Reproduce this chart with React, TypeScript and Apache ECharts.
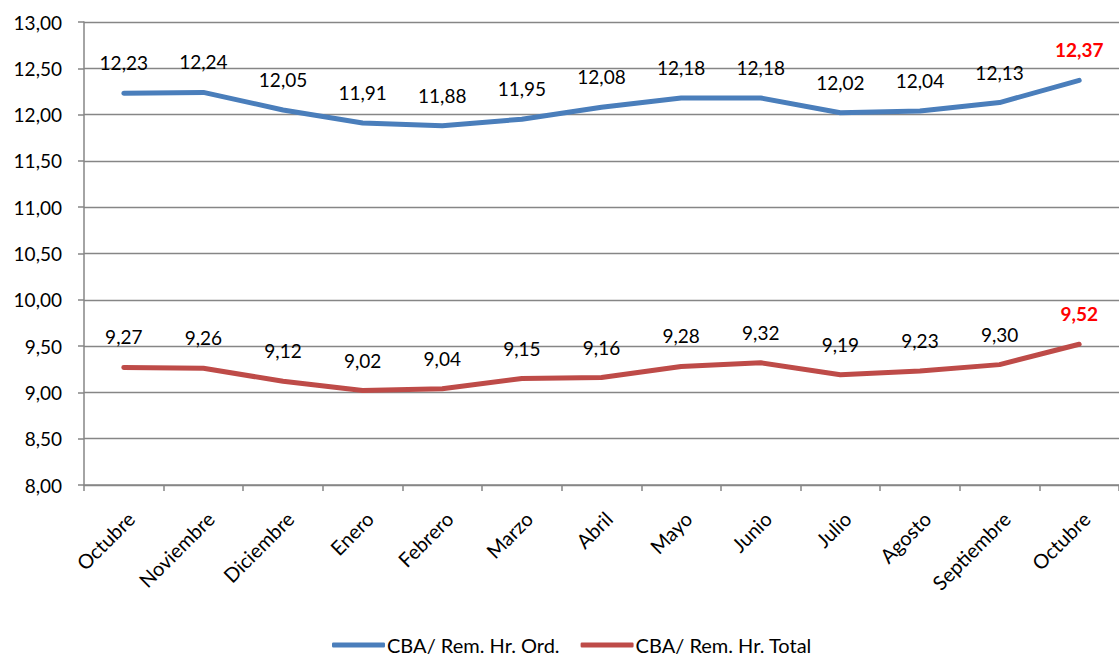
import React, { useEffect, useRef } from "react";
import * as echarts from "echarts";

const categories = ["Octubre", "Noviembre", "Diciembre", "Enero", "Febrero", "Marzo", "Abril", "Mayo", "Junio", "Julio", "Agosto", "Septiembre", "Octubre"];
const ordValues = [12.23, 12.24, 12.05, 11.91, 11.88, 11.95, 12.08, 12.18, 12.18, 12.02, 12.04, 12.13, 12.37];
const totalValues = [9.27, 9.26, 9.12, 9.02, 9.04, 9.15, 9.16, 9.28, 9.32, 9.19, 9.23, 9.30, 9.52];
const seriesNames = ["CBA/ Rem. Hr. Ord.", "CBA/ Rem. Hr. Total"];

const FONT = "Lato";
const fmt = (v: number) => v.toFixed(2).replace(".", ",");

function buildData(values: number[]) {
  return values.map((v, i) =>
    i === values.length - 1
      ? { value: v, label: { color: "#FF0000", fontWeight: "bold" as const } }
      : v
  );
}

export default function App() {
  const ref = useRef<HTMLDivElement>(null);
  useEffect(() => {
    if (!ref.current) return;
    const chart = echarts.init(ref.current, undefined, { renderer: "svg" });
    const labelCommon = {
      show: true,
      position: "top" as const,
      distance: 21,
      fontFamily: FONT,
      fontSize: 19,
      color: "#000",
      formatter: (p: any) => fmt(Array.isArray(p.value) ? p.value[1] : p.value),
    };
    chart.setOption({
      animation: false,
      backgroundColor: "#fff",
      textStyle: { fontFamily: FONT },
      grid: { left: 84, top: 22, width: 1048, height: 463, containLabel: false },
      legend: {
        bottom: -2,
        left: 327,
        icon: "roundRect",
        itemWidth: 53,
        itemHeight: 5,
        itemGap: 21,
        textStyle: { fontFamily: FONT, fontSize: 20, color: "#000", padding: [0, 0, 0, -3] },
        data: seriesNames,
      },
      xAxis: {
        type: "category",
        data: categories,
        boundaryGap: true,
        axisLine: { lineStyle: { color: "#868686", width: 1.5 } },
        axisTick: { show: true, length: 6, alignWithLabel: false, lineStyle: { color: "#868686", width: 1.5 } },
        axisLabel: { rotate: 45, margin: 23, verticalAlign: "top", fontFamily: FONT, fontSize: 20, color: "#000", interval: 0 },
      },
      yAxis: {
        type: "value",
        min: 8,
        max: 13,
        interval: 0.5,
        axisLine: { show: true, lineStyle: { color: "#868686", width: 1.5 } },
        axisTick: { show: true, length: 6, lineStyle: { color: "#868686", width: 1.5 } },
        splitLine: { lineStyle: { color: "#868686", width: 1.3 } },
        axisLabel: { fontFamily: FONT, fontSize: 19, color: "#000", margin: 22, formatter: (v: number) => fmt(v) },
      },
      series: [
        {
          name: seriesNames[0],
          type: "line",
          data: buildData(ordValues),
          symbol: "circle",
          symbolSize: 0,
          showSymbol: true,
          lineStyle: { color: "#4A7EBB", width: 5, cap: "round", join: "round" },
          itemStyle: { color: "#4A7EBB" },
          label: labelCommon,
        },
        {
          name: seriesNames[1],
          type: "line",
          data: buildData(totalValues),
          symbol: "circle",
          symbolSize: 0,
          showSymbol: true,
          lineStyle: { color: "#BE4B48", width: 5, cap: "round", join: "round" },
          itemStyle: { color: "#BE4B48" },
          label: labelCommon,
        },
      ],
    });
    return () => chart.dispose();
  }, []);
  return (
    <div
      ref={ref}
      style={{ position: "absolute", left: 0, top: 0, width: 1119, height: 658, overflow: "hidden" }}
    />
  );
}
